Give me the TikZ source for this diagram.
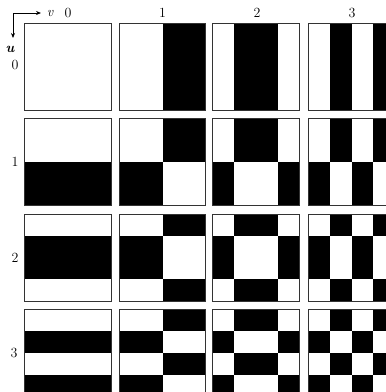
\documentclass[tikz,border=0pt]{standalone}
\usepackage{tikz}
\usetikzlibrary{arrows.meta}
\begin{document}
\begin{tikzpicture}[x=1pt,y=-1pt,
  lbl/.style={font=\fontsize{14}{16}\selectfont, inner sep=0pt},
  cellframe/.style={draw=black!80, line width=0.7pt},
  blk/.style={fill=black},
  axisarrow/.style={line width=0.8pt, -{Stealth[length=5pt,width=4pt]}}]
\useasboundingbox (0,0) rectangle (386,392);
\fill[white] (0,0) rectangle (386,392);
\def\cw{86.5}
\def\ch{87}
\def\q{21.625}
\def\qh{21.75}
% walsh sign: sequency order
\foreach \u/\y in {0/23.5,1/118.5,2/214,3/309.5}{
  \foreach \v/\x in {0/24.5,1/119.3,2/212.7,3/308.3}{
    \foreach \i in {0,1,2,3}{
      \foreach \j in {0,1,2,3}{
        % w_u(i): compute sign
        \pgfmathtruncatemacro{\su}{ (\u==0) ? 1 : ((\u==1) ? (\i<2 ? 1 : -1) : ((\u==2) ? ((\i==0 || \i==3) ? 1 : -1) : ((\i==0 || \i==2) ? 1 : -1))) }
        \pgfmathtruncatemacro{\sv}{ (\v==0) ? 1 : ((\v==1) ? (\j<2 ? 1 : -1) : ((\v==2) ? ((\j==0 || \j==3) ? 1 : -1) : ((\j==0 || \j==2) ? 1 : -1))) }
        \pgfmathtruncatemacro{\s}{\su*\sv}
        \ifnum\s<0
          \fill[blk] (\x+\j*\q,\y+\i*\qh) rectangle ++(\q,\qh);
        \fi
      }
    }
    \draw[cellframe] (\x,\y) rectangle ++(\cw,\ch);
  }
}
% column labels
\node[lbl] (c0) at (68,13) {0};
\node[lbl] (vlab) at (50,13.5) {\itshape v};
\node[lbl] (c1) at (162.5,13) {1};
\node[lbl] (c2) at (257,13) {2};
\node[lbl] (c3) at (352,13) {3};
% row labels
\node[lbl] (ulab) at (10,49) {\bfseries\itshape u};
\node[lbl] (r0) at (15,65) {0};
\node[lbl] (r1) at (15,162) {1};
\node[lbl] (r2) at (15,258) {2};
\node[lbl] (r3) at (14,353) {3};
% axis arrows
\coordinate (orig) at (13,13);
\coordinate (xend) at (41,13);
\coordinate (yend) at (13,38);
\draw[axisarrow] (orig) -- (xend);
\draw[axisarrow] (orig) -- (yend);
\end{tikzpicture}
\end{document}
